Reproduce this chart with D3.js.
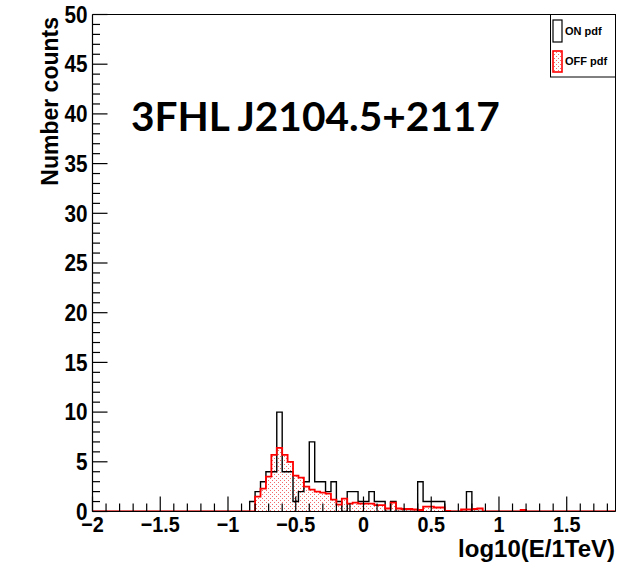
<!DOCTYPE html>
<html><head><meta charset="utf-8">
<script src="https://cdn.jsdelivr.net/npm/d3@7"></script>
<style>body{margin:0;background:#fff;} svg{display:block;}</style>
</head><body>
<script>
// Energy histograms: ON-source counts and normalised OFF-source counts
const binWidth = 0.04;
const binStart = -0.84;
const onCounts = [1, 2, 3, 4, 4, 10, 4, 4, 1, 2, 3, 7, 3, 3, 2, 3, 1, 0, 2, 2,
                  1, 1, 2, 1, 1, 0, 1, 0, 0, 0, 0, 3, 1, 1, 1, 1, 0, 0, 0, 0,
                  2, 0, 0];
const offCounts = [0, 1.5, 2.3, 3.5, 5.7, 6.4, 5.7, 5.0, 3.6, 3.4, 2.5, 2.2, 2.0, 1.9, 1.8, 1.2, 0.7, 1.3, 0.8, 0.9,
                   0.8, 0.8, 0.8, 0.65, 0.65, 0.3, 0.9, 0.3, 0.25, 0.25, 0.2, 0.15, 0.5, 0.5, 0.4, 0.4, 0.05, 0, 0, 0.2,
                   0.2, 0.25, 0.3, 0, 0, 0, 0, 0, 0, 0, 0.15];
const xMajorTicks = [-2, -1.5, -1, -0.5, 0, 0.5, 1, 1.5];
const yMajorTicks = [0, 5, 10, 15, 20, 25, 30, 35, 40, 45, 50];
const legendLabels = ["ON pdf", "OFF pdf"];
const titleText = "3FHL J2104.5+2117";
const xTitle = "log10(E/1TeV)";
const yTitle = "Number counts";

const W = 618, H = 564;
const xDomain = [-2, 1.86], yDomain = [0, 50];
const x = d3.scaleLinear().domain(xDomain).range([92.5, 615.5]);
const y = d3.scaleLinear().domain(yDomain).range([511.5, 14.5]);

const svg = d3.select("body").append("svg").attr("width", W).attr("height", H);
const defs = svg.append("defs");
const pat = defs.append("pattern").attr("id", "dots").attr("patternUnits", "userSpaceOnUse")
  .attr("width", 4).attr("height", 4);
pat.append("rect").attr("x", 0).attr("y", 0).attr("width", 1).attr("height", 1).attr("fill", "#f26b6b");
pat.append("rect").attr("x", 2).attr("y", 2).attr("width", 1).attr("height", 1).attr("fill", "#f26b6b");
defs.append("clipPath").attr("id", "frame").append("rect")
  .attr("x", x(xDomain[0])).attr("y", y(yDomain[1]))
  .attr("width", x(xDomain[1]) - x(xDomain[0])).attr("height", y(0) - y(yDomain[1]));

// step outline of a histogram over the full axis range
function stepPoints(counts) {
  const nTotal = Math.ceil((xDomain[1] - xDomain[0]) / binWidth + 1e-9);
  const offset = Math.round((binStart - xDomain[0]) / binWidth);
  const pts = [[xDomain[0], 0]];
  for (let i = 0; i < nTotal; i++) {
    const j = i - offset;
    const v = (j >= 0 && j < counts.length) ? counts[j] : 0;
    const lo = xDomain[0] + i * binWidth;
    pts.push([lo, v], [lo + binWidth, v]);
  }
  pts.push([xDomain[0] + nTotal * binWidth, 0]);
  return pts;
}
const line = d3.line().x(d => x(d[0])).y(d => y(d[1]));
const plot = svg.append("g").attr("clip-path", "url(#frame)");

const offPts = stepPoints(offCounts);
const onPts = stepPoints(onCounts);
plot.append("path").attr("d", line(offPts) + "Z").attr("fill", "url(#dots)").attr("stroke", "none");
plot.append("path").attr("d", line(onPts)).attr("fill", "none").attr("stroke", "#000").attr("stroke-width", 1.4);
plot.append("path").attr("d", line(offPts)).attr("fill", "none").attr("stroke", "#ff0000").attr("stroke-width", 1.8);

// frame
svg.append("path")
  .attr("d", `M${x(xDomain[0])},${y(yDomain[1])}H${x(xDomain[1])}V${y(0)}`)
  .attr("fill", "none").attr("stroke", "#000").attr("stroke-width", 1);

const font = "'Liberation Sans', Arial, sans-serif";
// x axis with inward ticks
const xAxisG = svg.append("g").attr("transform", `translate(0,${y(0)})`);
const xMinor = d3.range(-2, xDomain[1] + 1e-9, 0.1).map(v => +v.toFixed(2));
xAxisG.append("path").attr("d", `M${x(xDomain[0])},0H${x(xDomain[1])}`).attr("stroke", "#000").attr("stroke-width", 1.2);
xAxisG.selectAll(".xt").data(xMinor).join("line")
  .attr("x1", d => x(d)).attr("x2", d => x(d)).attr("y1", 0)
  .attr("y2", d => xMajorTicks.some(t => Math.abs(t - d) < 1e-6) ? -15 : -8)
  .attr("stroke", "#000").attr("stroke-width", 1.2);
const fmt = v => (v < 0 ? "\u2212" : "") + Math.abs(v);
xAxisG.selectAll(".xl").data(xMajorTicks).join("text")
  .attr("transform", d => `translate(${x(d)},20) scale(0.9,1)`).attr("text-anchor", "middle")
  .attr("font-family", font).attr("font-weight", "bold").attr("font-size", 22)
  .text(fmt);

// y axis with inward ticks
const yAxisG = svg.append("g").attr("transform", `translate(${x(xDomain[0])},0)`);
yAxisG.append("path").attr("d", `M0,${y(0)}V${y(yDomain[1])}`).attr("stroke", "#000").attr("stroke-width", 1.2);
yAxisG.selectAll(".yt").data(d3.range(0, 51, 1)).join("line")
  .attr("y1", d => y(d)).attr("y2", d => y(d)).attr("x1", 0)
  .attr("x2", d => d % 5 === 0 ? 15 : 7.5)
  .attr("stroke", "#000").attr("stroke-width", 1.2);
yAxisG.selectAll(".yl").data(yMajorTicks).join("text")
  .attr("transform", d => `translate(-5,${y(d)}) scale(0.9,1)`).attr("dy", "0.36em").attr("text-anchor", "end")
  .attr("font-family", font).attr("font-weight", "bold").attr("font-size", 23)
  .text(d => d);

// axis titles
svg.append("text").attr("x", 615).attr("y", 557).attr("text-anchor", "end")
  .attr("font-family", font).attr("font-weight", "bold").attr("font-size", 24).text(xTitle);
svg.append("text").attr("transform", "translate(58,17) rotate(-90)").attr("text-anchor", "end")
  .attr("font-family", font).attr("font-weight", "bold").attr("font-size", 23).text(yTitle);

// legend
const lg = svg.append("g");
lg.append("rect").attr("x", 550.5).attr("y", 14.5).attr("width", 65).attr("height", 62.5)
  .attr("fill", "#fff").attr("stroke", "#000").attr("stroke-width", 1);
lg.append("rect").attr("x", 553).attr("y", 20).attr("width", 9).attr("height", 22)
  .attr("fill", "#fff").attr("stroke", "#000").attr("stroke-width", 1.2);
lg.append("rect").attr("x", 553).attr("y", 51).attr("width", 9).attr("height", 21)
  .attr("fill", "url(#dots)").attr("stroke", "#ff0000").attr("stroke-width", 1.6);
lg.selectAll(".lt").data(legendLabels).join("text")
  .attr("x", 565).attr("y", (d, i) => [35, 65][i])
  .attr("font-family", font).attr("font-weight", "bold").attr("font-size", 11).text(d => d);

// source name
const t = svg.append("text").attr("x", 131).attr("y", 131)
  .attr("font-family", "Lato, 'Open Sans', sans-serif").attr("font-weight", "bold")
  .attr("font-size", 40).text(titleText);
const tw = t.node().getComputedTextLength();
t.attr("font-size", 40 * 369 / tw);
</script>
</body></html>
